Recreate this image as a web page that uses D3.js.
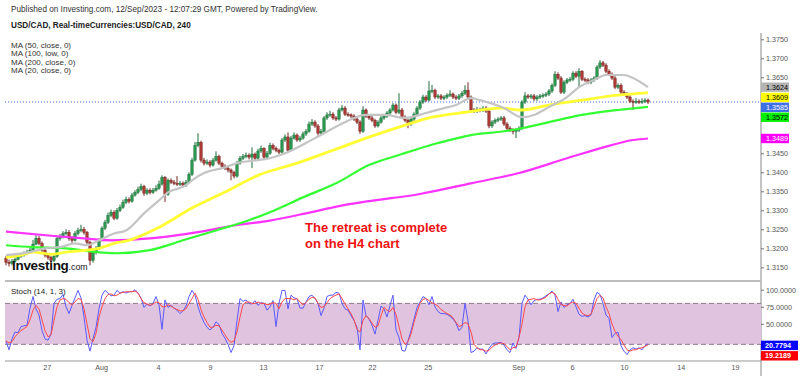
<!DOCTYPE html>
<html><head><meta charset="utf-8">
<script src="https://cdn.jsdelivr.net/npm/d3@7"></script>
<style>body{margin:0;background:#fff}svg{display:block;font-family:"Liberation Sans",Arial,sans-serif}</style>
</head><body><svg id="c" width="800" height="376"></svg>
<script>
// ---- DATA (USD/CAD, 4H candles) ----
const opens=[1.3174,1.3163,1.3160,1.3166,1.3171,1.3179,1.3182,1.3187,1.3190,1.3195,
1.3211,1.3226,1.3213,1.3195,1.3182,1.3176,1.3168,1.3179,1.3226,1.3231,
1.3239,1.3242,1.3226,1.3221,1.3239,1.3247,1.3250,1.3242,1.3216,1.3168,
1.3190,1.3200,1.3221,1.3253,1.3268,1.3287,1.3295,1.3279,1.3300,1.3308,
1.3321,1.3329,1.3324,1.3340,1.3347,1.3355,1.3363,1.3345,1.3353,1.3347,
1.3353,1.3358,1.3369,1.3387,1.3342,1.3379,1.3374,1.3371,1.3369,1.3371,
1.3366,1.3374,1.3395,1.3432,1.3471,1.3479,1.3432,1.3424,1.3427,1.3419,
1.3432,1.3442,1.3424,1.3416,1.3411,1.3406,1.3400,1.3390,1.3424,1.3437,
1.3442,1.3445,1.3440,1.3448,1.3437,1.3456,1.3463,1.3440,1.3450,1.3471,
1.3463,1.3458,1.3453,1.3485,1.3493,1.3458,1.3490,1.3498,1.3485,1.3490,
1.3501,1.3508,1.3527,1.3532,1.3522,1.3503,1.3508,1.3543,1.3551,1.3553,
1.3543,1.3540,1.3564,1.3569,1.3553,1.3551,1.3548,1.3540,1.3532,1.3508,
1.3564,1.3548,1.3543,1.3537,1.3522,1.3532,1.3543,1.3548,1.3556,1.3564,
1.3577,1.3558,1.3564,1.3545,1.3537,1.3527,1.3540,1.3553,1.3569,1.3585,
1.3598,1.3590,1.3614,1.3616,1.3598,1.3601,1.3595,1.3598,1.3603,1.3606,
1.3598,1.3595,1.3601,1.3608,1.3616,1.3598,1.3564,1.3561,1.3566,1.3564,
1.3569,1.3561,1.3522,1.3532,1.3537,1.3540,1.3543,1.3527,1.3516,1.3511,
1.3508,1.3511,1.3516,1.3585,1.3601,1.3598,1.3601,1.3593,1.3598,1.3601,
1.3603,1.3606,1.3614,1.3629,1.3658,1.3648,1.3611,1.3637,1.3643,1.3645,
1.3661,1.3653,1.3666,1.3645,1.3643,1.3637,1.3643,1.3648,1.3677,1.3688,
1.3682,1.3666,1.3658,1.3648,1.3624,1.3629,1.3611,1.3606,1.3598,1.3587,
1.3585,1.3587,1.3585,1.3587,1.3590];
const highs=[1.3180,1.3170,1.3172,1.3176,1.3185,1.3188,1.3192,1.3196,1.3201,1.3222,
1.3237,1.3232,1.3218,1.3200,1.3186,1.3180,1.3184,1.3232,1.3238,1.3245,
1.3250,1.3248,1.3232,1.3245,1.3254,1.3262,1.3256,1.3246,1.3220,1.3195,
1.3206,1.3226,1.3258,1.3275,1.3294,1.3302,1.3300,1.3306,1.3315,1.3328,
1.3336,1.3334,1.3346,1.3353,1.3362,1.3370,1.3367,1.3358,1.3358,1.3359,
1.3366,1.3378,1.3392,1.3390,1.3384,1.3384,1.3380,1.3390,1.3377,1.3376,
1.3380,1.3400,1.3438,1.3480,1.3503,1.3483,1.3438,1.3434,1.3432,1.3438,
1.3455,1.3446,1.3428,1.3421,1.3416,1.3410,1.3404,1.3430,1.3443,1.3448,
1.3452,1.3450,1.3466,1.3452,1.3462,1.3470,1.3466,1.3456,1.3478,1.3476,
1.3468,1.3462,1.3490,1.3500,1.3505,1.3496,1.3505,1.3502,1.3496,1.3507,
1.3514,1.3534,1.3540,1.3537,1.3527,1.3514,1.3548,1.3558,1.3562,1.3558,
1.3548,1.3570,1.3577,1.3574,1.3558,1.3555,1.3553,1.3545,1.3537,1.3574,
1.3568,1.3553,1.3548,1.3541,1.3537,1.3548,1.3553,1.3561,1.3569,1.3582,
1.3581,1.3608,1.3569,1.3550,1.3541,1.3545,1.3558,1.3574,1.3590,1.3604,
1.3603,1.3640,1.3630,1.3620,1.3606,1.3606,1.3603,1.3608,1.3616,1.3610,
1.3603,1.3606,1.3614,1.3629,1.3637,1.3602,1.3569,1.3572,1.3570,1.3574,
1.3574,1.3566,1.3537,1.3542,1.3545,1.3548,1.3548,1.3532,1.3521,1.3516,
1.3516,1.3521,1.3590,1.3611,1.3606,1.3606,1.3606,1.3603,1.3606,1.3608,
1.3611,1.3619,1.3634,1.3666,1.3663,1.3653,1.3642,1.3648,1.3651,1.3666,
1.3666,1.3674,1.3669,1.3650,1.3648,1.3648,1.3653,1.3682,1.3695,1.3693,
1.3687,1.3671,1.3663,1.3653,1.3634,1.3634,1.3616,1.3611,1.3603,1.3592,
1.3595,1.3592,1.3595,1.3595,1.3594];
const lows=[1.3155,1.3152,1.3155,1.3162,1.3168,1.3175,1.3178,1.3182,1.3186,1.3192,
1.3208,1.3208,1.3190,1.3176,1.3170,1.3160,1.3164,1.3175,1.3220,1.3226,
1.3234,1.3220,1.3214,1.3218,1.3234,1.3242,1.3236,1.3210,1.3155,1.3162,
1.3184,1.3196,1.3218,1.3248,1.3264,1.3282,1.3274,1.3275,1.3295,1.3304,
1.3316,1.3318,1.3320,1.3336,1.3343,1.3350,1.3338,1.3340,1.3342,1.3343,
1.3349,1.3354,1.3365,1.3322,1.3338,1.3369,1.3366,1.3364,1.3364,1.3361,
1.3362,1.3370,1.3390,1.3428,1.3466,1.3426,1.3418,1.3419,1.3413,1.3415,
1.3428,1.3419,1.3411,1.3406,1.3400,1.3379,1.3384,1.3386,1.3420,1.3432,
1.3437,1.3434,1.3411,1.3432,1.3433,1.3451,1.3435,1.3436,1.3446,1.3458,
1.3453,1.3448,1.3450,1.3480,1.3453,1.3455,1.3486,1.3480,1.3480,1.3486,
1.3496,1.3504,1.3522,1.3517,1.3497,1.3498,1.3504,1.3538,1.3546,1.3538,
1.3535,1.3536,1.3560,1.3548,1.3546,1.3543,1.3535,1.3527,1.3501,1.3504,
1.3543,1.3538,1.3532,1.3517,1.3518,1.3528,1.3538,1.3543,1.3551,1.3560,
1.3553,1.3553,1.3540,1.3532,1.3516,1.3522,1.3535,1.3548,1.3564,1.3580,
1.3585,1.3586,1.3608,1.3593,1.3593,1.3590,1.3590,1.3593,1.3598,1.3593,
1.3590,1.3590,1.3596,1.3603,1.3593,1.3558,1.3556,1.3556,1.3558,1.3559,
1.3556,1.3516,1.3517,1.3527,1.3532,1.3535,1.3522,1.3511,1.3506,1.3500,
1.3490,1.3506,1.3511,1.3580,1.3593,1.3593,1.3588,1.3588,1.3593,1.3596,
1.3598,1.3601,1.3609,1.3624,1.3643,1.3606,1.3606,1.3632,1.3638,1.3640,
1.3648,1.3624,1.3640,1.3638,1.3632,1.3632,1.3638,1.3643,1.3672,1.3677,
1.3661,1.3653,1.3643,1.3619,1.3619,1.3606,1.3601,1.3593,1.3582,1.3564,
1.3580,1.3580,1.3580,1.3582,1.3580];
const closes=[1.3163,1.3160,1.3166,1.3171,1.3179,1.3182,1.3187,1.3190,1.3195,1.3211,
1.3226,1.3213,1.3195,1.3182,1.3176,1.3168,1.3179,1.3226,1.3231,1.3239,
1.3242,1.3226,1.3221,1.3239,1.3247,1.3250,1.3242,1.3216,1.3168,1.3190,
1.3200,1.3221,1.3253,1.3268,1.3287,1.3295,1.3279,1.3300,1.3308,1.3321,
1.3329,1.3324,1.3340,1.3347,1.3355,1.3363,1.3345,1.3353,1.3347,1.3353,
1.3358,1.3369,1.3387,1.3342,1.3379,1.3374,1.3371,1.3369,1.3371,1.3366,
1.3374,1.3395,1.3432,1.3471,1.3479,1.3432,1.3424,1.3427,1.3419,1.3432,
1.3442,1.3424,1.3416,1.3411,1.3406,1.3400,1.3390,1.3424,1.3437,1.3442,
1.3445,1.3440,1.3448,1.3437,1.3456,1.3463,1.3440,1.3450,1.3471,1.3463,
1.3458,1.3453,1.3485,1.3493,1.3458,1.3490,1.3498,1.3485,1.3490,1.3501,
1.3508,1.3527,1.3532,1.3522,1.3503,1.3508,1.3543,1.3551,1.3553,1.3543,
1.3540,1.3564,1.3569,1.3553,1.3551,1.3548,1.3540,1.3532,1.3508,1.3564,
1.3548,1.3543,1.3537,1.3522,1.3532,1.3543,1.3548,1.3556,1.3564,1.3577,
1.3558,1.3564,1.3545,1.3537,1.3527,1.3540,1.3553,1.3569,1.3585,1.3598,
1.3590,1.3614,1.3616,1.3598,1.3601,1.3595,1.3598,1.3603,1.3606,1.3598,
1.3595,1.3601,1.3608,1.3616,1.3598,1.3564,1.3561,1.3566,1.3564,1.3569,
1.3561,1.3522,1.3532,1.3537,1.3540,1.3543,1.3527,1.3516,1.3511,1.3508,
1.3511,1.3516,1.3585,1.3601,1.3598,1.3601,1.3593,1.3598,1.3601,1.3603,
1.3606,1.3614,1.3629,1.3658,1.3648,1.3611,1.3637,1.3643,1.3645,1.3661,
1.3653,1.3666,1.3645,1.3643,1.3637,1.3643,1.3648,1.3677,1.3688,1.3682,
1.3666,1.3658,1.3648,1.3624,1.3629,1.3611,1.3606,1.3598,1.3587,1.3585,
1.3587,1.3585,1.3587,1.3590,1.3585];

// moving averages: [bar index, value]
const ma50=[[0,1.3176],[5,1.3182],[9,1.3190],[15,1.3184],[20,1.3190],[27,1.3195],[31,1.3200],[36,1.3213],[41,1.3221],[51,1.3255],[62,1.3306],[73,1.3348],[84,1.3392],[97,1.3424],[109,1.3458],[120,1.3490],[131,1.3519],[142,1.3545],[153,1.3558],[165,1.3569],[172,1.3564],[181,1.3577],[192,1.3590],[204,1.3603],[214,1.3609]];
const ma100=[[0,1.3208],[9,1.3203],[20,1.3200],[28,1.3192],[37,1.3187],[48,1.3195],[59,1.3221],[70,1.3247],[81,1.3274],[88,1.3295],[99,1.3334],[110,1.3371],[121,1.3419],[132,1.3448],[144,1.3477],[155,1.3498],[166,1.3508],[172,1.3516],[181,1.3532],[192,1.3551],[204,1.3564],[214,1.3572]];
const ma200=[[0,1.3244],[15,1.3233],[26,1.3226],[35,1.3221],[48,1.3226],[65,1.3244],[76,1.3260],[88,1.3273],[100,1.3292],[111,1.3311],[121,1.3324],[138,1.3343],[155,1.3371],[171,1.3398],[187,1.3437],[198,1.3463],[209,1.3485],[214,1.3489]];
const ma20=[[0,1.3182],[8,1.3190],[13,1.3200],[18,1.3203],[23,1.3213],[27,1.3208],[31,1.3221],[36,1.3239],[40,1.3247],[46,1.3292],[51,1.3326],[54,1.3347],[60,1.3366],[62,1.3379],[66,1.3398],[73,1.3413],[77,1.3424],[84,1.3432],[88,1.3437],[93,1.3450],[100,1.3477],[106,1.3503],[113,1.3532],[120,1.3551],[126,1.3551],[133,1.3543],[140,1.3556],[146,1.3569],[150,1.3577],[155,1.3595],[158,1.3590],[166,1.3569],[172,1.3545],[176,1.3551],[181,1.3572],[187,1.3598],[191,1.3624],[196,1.3643],[200,1.3656],[206,1.3656],[209,1.3648],[214,1.3624]];

// Stochastic (14,1,3)
const stochK=[25,12,28,38,37,46,47,48,73,90,
72,63,40,28,26,35,80,86,87,93,
75,65,77,88,99,88,60,26,10,28,
45,72,92,99,95,91,92,99,95,97,
95,97,97,100,95,88,74,79,76,80,
90,78,42,85,74,77,73,70,65,69,
76,90,99,92,75,62,52,45,41,45,
53,49,36,29,20,8,18,55,87,83,
85,80,79,84,77,81,80,70,75,84,
46,80,99,99,72,92,88,87,73,73,
82,90,92,87,80,62,73,90,92,92,
96,95,80,72,70,62,55,45,12,85,
62,57,48,35,55,76,72,60,77,92,
41,30,11,10,25,40,57,74,82,90,
87,78,90,75,68,65,65,64,61,57,
51,40,45,80,55,8,10,15,13,13,
6,14,20,22,22,23,19,12,8,22,
14,30,80,92,86,78,84,86,86,88,
91,94,98,92,68,82,74,78,80,86,
75,64,61,62,60,63,85,96,93,80,
63,58,30,36,38,18,10,5,12,15,
13,15,12,18,20.7794];
const stochD=[25,22,24,31,36,40,43,46,56,70,
77,72,56,40,31,34,55,75,85,87,
86,81,78,82,87,86,72,50,28,24,
36,60,75,87,93,94,91,92,95,96,
97,97,97,98,95,87,81,79,77,79,
82,81,75,75,78,76,73,71,69,69,
72,80,87,95,86,71,60,52,45,45,
48,47,41,34,27,23,25,38,60,78,
82,82,80,80,82,80,80,78,79,81,
80,72,82,87,87,87,85,87,82,78,
81,86,89,88,80,74,75,81,87,90,
92,94,87,79,72,65,56,42,38,55,
62,58,51,45,47,62,74,70,68,74,
64,46,28,20,24,35,52,67,80,86,
87,84,81,79,76,71,68,65,63,59,
52,46,48,52,50,38,20,15,12,12,
10,11,16,19,21,22,21,17,12,15,
16,30,50,75,85,86,87,85,85,87,
89,94,96,94,86,78,77,76,80,82,
80,73,66,63,62,64,75,87,92,88,
75,65,50,39,32,27,19,12,10,12,
12,14,15,17,19.2189];

// visible price-axis tick labels (others are hidden behind the value badges)
const priceTicks=[1.3150,1.3200,1.3250,1.3300,1.3350,1.3400,1.3450,1.3650,1.3700,1.3750];
const stochTicks=[100,75,50];
const dateTickPos=[13.6,31.7,50.7,68,85.7,104.3,122,140.6,170.7,188.7,206,224.9,243];
const dateTickLabels=["27","Aug","4","9","13","17","22","25","Sep","6","10","14","19"];
const lastPrice=1.3585;
const priceBadges=[{v:1.3624,bg:"#b4b4b4",fg:"#000",y:1.3624},{v:1.3609,bg:"#ffff00",fg:"#000",y:1.3597},{v:1.3585,bg:"#3f6fe6",fg:"#fff",y:1.3571},{v:1.3572,bg:"#00ee00",fg:"#000",y:1.3545},{v:1.3489,bg:"#ff00ff",fg:"#fff",y:1.3489}];
const stochBadges=[{v:20.7794,bg:"#0000ff",fg:"#fff",y:18.5},{v:19.2189,bg:"#ff0000",fg:"#fff",y:3.2}];

// ---- DRAW ----
const svg=d3.select("#c");
const axisX=761;
const x=d3.scaleLinear().domain([0,214]).range([6,648]);
const yP=d3.scaleLinear().domain([1.3150,1.3750]).range([267.3,39.3]);
const yS=d3.scaleLinear().domain([0,100]).range([358,289.7]);

// header text
svg.append("text").attr("x",11).attr("y",12).attr("font-size",8.2).attr("fill","#333")
  .text("Published on Investing.com, 12/Sep/2023 - 12:07:29 GMT, Powered by TradingView.");
svg.append("text").attr("x",11).attr("y",28).attr("font-size",8.2).attr("font-weight","bold").attr("fill","#222")
  .text("USD/CAD, Real-timeCurrencies:USD/CAD, 240");
["MA (50, close, 0)","MA (100, low, 0)","MA (200, close, 0)","MA (20, close, 0)"].forEach((t,i)=>{
  svg.append("text").attr("x",11).attr("y",47.5+i*8.5).attr("font-size",8).attr("fill","#333").text(t);
});

// last price dotted line
svg.append("line").attr("x1",5).attr("x2",axisX).attr("y1",yP(lastPrice)).attr("y2",yP(lastPrice))
  .attr("stroke","#3c6ee8").attr("stroke-width",1).attr("stroke-dasharray","1,2");

// candles
const g=svg.append("g");
closes.forEach((c,i)=>{
  const o=opens[i],up=c>=o;
  const col=up?"#2b9a51":"#b23a36", edge=up?"#1f6e3b":"#742420";
  g.append("line").attr("x1",x(i)).attr("x2",x(i)).attr("y1",yP(highs[i])).attr("y2",yP(lows[i]))
    .attr("stroke",edge).attr("stroke-width",1);
  const top=yP(Math.max(o,c)), bot=yP(Math.min(o,c));
  g.append("rect").attr("x",x(i)-1.2).attr("width",2.4).attr("y",top).attr("height",Math.max(1,bot-top))
    .attr("fill",col).attr("stroke",edge).attr("stroke-width",0.5);
});

// moving averages
const maLine=d3.line().x(d=>x(d[0])).y(d=>yP(d[1])).curve(d3.curveMonotoneX);
[[ma200,"#ff33ff",2.2],[ma100,"#33ff33",2.2],[ma50,"#ffff33",2.8],[ma20,"#c4c4c4",2.2]].forEach(([d,c,w])=>{
  svg.append("path").attr("d",maLine(d)).attr("fill","none").attr("stroke",c).attr("stroke-width",w);
});

// annotation
svg.append("text").attr("x",305).attr("y",232).attr("font-size",13).attr("font-weight","bold").attr("fill","#ee1111").text("The retreat is complete");
svg.append("text").attr("x",305).attr("y",248).attr("font-size",13).attr("font-weight","bold").attr("fill","#ee1111").text("on the H4 chart");

// logo
const logo=svg.append("text").attr("x",12).attr("y",270).attr("fill","#111");
logo.append("tspan").attr("font-size",13.5).attr("font-weight","bold").attr("letter-spacing",-0.3).text("Investing");
logo.append("tspan").attr("font-size",8.8).text(".com");

// price axis
svg.append("line").attr("x1",axisX).attr("x2",axisX).attr("y1",33).attr("y2",376).attr("stroke","#888");
const pa=svg.append("g").attr("transform",`translate(${axisX},0)`)
  .call(d3.axisRight(yP).tickValues(priceTicks).tickFormat(d3.format(".4f")).tickSize(3).tickPadding(2));
pa.select(".domain").remove();
pa.selectAll("line").attr("stroke","#777");
pa.selectAll("text").attr("font-size",7.2).attr("fill","#555").attr("font-family","Liberation Sans, Arial, sans-serif");

priceBadges.forEach(b=>{
  const cy=yP(b.y);
  svg.append("rect").attr("x",axisX).attr("y",cy-4.7).attr("width",28).attr("height",9.4).attr("fill",b.bg);
  svg.append("text").attr("x",axisX+5).attr("y",cy+2.6).attr("font-size",7.2).attr("fill",b.fg).text(d3.format(".4f")(b.v));
});

// stochastic pane
svg.append("line").attr("x1",5).attr("x2",axisX).attr("y1",281).attr("y2",281).attr("stroke","#bdbdbd").attr("stroke-width",2);
svg.append("line").attr("x1",5).attr("x2",axisX).attr("y1",361).attr("y2",361).attr("stroke","#999").attr("stroke-width",1);
svg.append("rect").attr("x",5).attr("width",axisX-5).attr("y",yS(80)).attr("height",yS(20)-yS(80)).attr("fill","#dfc3df");
[80,20].forEach(v=>svg.append("line").attr("x1",5).attr("x2",axisX).attr("y1",yS(v)).attr("y2",yS(v))
  .attr("stroke","#8c7a8c").attr("stroke-dasharray","5,3"));
const sLine=d3.line().x((d,i)=>x(i)).y(d=>yS(d));
svg.append("path").attr("d",sLine(stochK)).attr("fill","none").attr("stroke","#5a5aff").attr("stroke-width",1);
svg.append("path").attr("d",sLine(stochD)).attr("fill","none").attr("stroke","#ff4a4a").attr("stroke-width",1);
svg.append("text").attr("x",11).attr("y",294).attr("font-size",8).attr("fill","#222").text("Stoch (14, 1, 3)");

const sa=svg.append("g").attr("transform",`translate(${axisX},0)`)
  .call(d3.axisRight(yS).tickValues(stochTicks).tickFormat(d3.format(".4f")).tickSize(3).tickPadding(2));
sa.select(".domain").remove();
sa.selectAll("line").attr("stroke","#777");
sa.selectAll("text").attr("font-size",7.2).attr("fill","#555").attr("font-family","Liberation Sans, Arial, sans-serif");
stochBadges.forEach(b=>{
  const cy=yS(b.y);
  svg.append("rect").attr("x",axisX).attr("y",cy-4.7).attr("width",37).attr("height",9.4).attr("fill",b.bg);
  svg.append("text").attr("x",axisX+4).attr("y",cy+2.6).attr("font-size",7.2).attr("font-weight","bold").attr("fill",b.fg).text(d3.format(".4f")(b.v));
});

// date axis
const da=svg.append("g").attr("transform","translate(0,361)")
  .call(d3.axisBottom(x).tickValues(dateTickPos).tickFormat((d,i)=>dateTickLabels[i]).tickSize(0).tickPadding(4));
da.select(".domain").remove();
da.selectAll("text").attr("font-size",7.2).attr("fill","#555").attr("font-family","Liberation Sans, Arial, sans-serif");
</script></body></html>
